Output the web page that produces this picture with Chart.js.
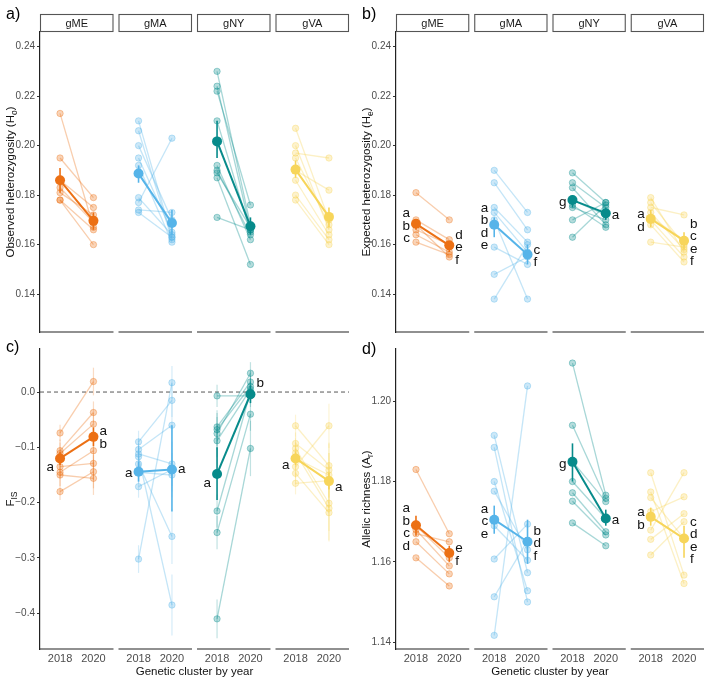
<!DOCTYPE html>
<html>
<head>
<meta charset="utf-8">
<script src="https://cdn.jsdelivr.net/npm/chart.js@4.4.1/dist/chart.umd.min.js"></script>
<style>
  body { margin: 0; background: #fff; }
  #wrap { position: relative; width: 709px; height: 680px; }
  canvas { position: absolute; }
</style>
</head>
<body>
<div id="wrap">
  <canvas id="pa" width="354" height="340" style="left:0;top:0"></canvas>
  <canvas id="pb" width="353" height="340" style="left:356px;top:0"></canvas>
  <canvas id="pc" width="354" height="340" style="left:0;top:340px"></canvas>
  <canvas id="pd" width="353" height="340" style="left:356px;top:340px"></canvas>
</div>
<script>
// categories
const clusters = ['gME', 'gMA', 'gNY', 'gVA'];
const years = ['2018', '2020'];

// a) observed heterozygosity, one row per cluster, sites paired by index
const hoSite2018 = [
  [0.213, 0.195, 0.186, 0.183, 0.181, 0.178, 0.178],
  [0.210, 0.206, 0.200, 0.195, 0.192, 0.179, 0.177, 0.174, 0.173],
  [0.230, 0.224, 0.222, 0.210, 0.192, 0.190, 0.189, 0.187, 0.171],
  [0.207, 0.200, 0.197, 0.195, 0.190, 0.186, 0.180, 0.178]
];
const hoSite2020 = [
  [0.167, 0.179, 0.175, 0.169, 0.172, 0.166, 0.160],
  [0.163, 0.162, 0.170, 0.165, 0.161, 0.164, 0.203, 0.173, 0.163],
  [0.168, 0.166, 0.176, 0.165, 0.162, 0.164, 0.167, 0.152, 0.166],
  [0.170, 0.166, 0.195, 0.168, 0.182, 0.164, 0.162, 0.160]
];
const hoMean = [[0.186, 0.1696], [0.1887, 0.1687], [0.2017, 0.1674], [0.1903, 0.1712]];
const hoMeanLo = [[0.181, 0.166], [0.185, 0.164], [0.195, 0.164], [0.187, 0.167]];
const hoMeanHi = [[0.191, 0.173], [0.192, 0.174], [0.210, 0.171], [0.194, 0.175]];

// b) expected heterozygosity
const heSite2018 = [
  [0.181, 0.170, 0.166, 0.164, 0.161, 0.168],
  [0.190, 0.185, 0.175, 0.173, 0.170, 0.159, 0.148, 0.138],
  [0.189, 0.185, 0.183, 0.178, 0.175, 0.170, 0.163, 0.176],
  [0.179, 0.177, 0.175, 0.173, 0.170, 0.168, 0.161, 0.171]
];
const heSite2020 = [
  [0.170, 0.162, 0.160, 0.157, 0.156, 0.155],
  [0.173, 0.166, 0.161, 0.157, 0.138, 0.152, 0.155, 0.160],
  [0.177, 0.175, 0.168, 0.172, 0.170, 0.177, 0.176, 0.167],
  [0.157, 0.160, 0.172, 0.158, 0.155, 0.153, 0.159, 0.162]
];
const heMean = [[0.1684, 0.1597], [0.168, 0.156], [0.178, 0.1727], [0.1704, 0.1616]];
const heMeanLo = [[0.166, 0.157], [0.163, 0.152], [0.175, 0.170], [0.167, 0.158]];
const heMeanHi = [[0.170, 0.161], [0.171, 0.160], [0.180, 0.175], [0.174, 0.165]];
const heLetters = [['abc', 'def'], ['abde', 'cf'], ['g', 'a'], ['ad', 'bcef']];

// c) F_IS
const fisSite2018 = [
  [-0.074, -0.106, -0.111, -0.135, -0.145, -0.150, -0.180],
  [-0.090, -0.104, -0.112, -0.117, -0.130, -0.171, -0.302, -0.145],
  [-0.007, -0.063, -0.068, -0.075, -0.088, -0.215, -0.254, -0.410],
  [-0.061, -0.093, -0.102, -0.110, -0.135, -0.147, -0.165, -0.120]
];
const fisSite2020 = [
  [0.019, -0.037, -0.058, -0.129, -0.106, -0.156, -0.144],
  [-0.015, -0.060, -0.130, -0.385, -0.261, -0.140, 0.017, -0.150],
  [-0.007, 0.018, 0.010, 0.034, 0.005, 0.000, -0.040, -0.102],
  [-0.133, -0.141, -0.201, -0.210, -0.061, -0.218, -0.160, -0.150]
];
const fisErr2018 = [
  [0.015, 0.02, 0.02, 0.02, 0.02, 0.02, 0.015],
  [0.02, 0.02, 0.02, 0.02, 0.03, 0.02, 0.025, 0.02],
  [0.02, 0.03, 0.03, 0.03, 0.03, 0.03, 0.03, 0.035],
  [0.02, 0.02, 0.02, 0.02, 0.02, 0.02, 0.02, 0.02]
];
const fisErr2020 = [
  [0.025, 0.02, 0.02, 0.03, 0.03, 0.03, 0.03],
  [0.03, 0.04, 0.04, 0.055, 0.05, 0.04, 0.03, 0.04],
  [0.02, 0.02, 0.02, 0.02, 0.02, 0.02, 0.03, 0.05],
  [0.04, 0.05, 0.05, 0.06, 0.04, 0.05, 0.05, 0.04]
];
const fisMean = [[-0.120, -0.081], [-0.144, -0.140], [-0.148, -0.004], [-0.120, -0.161]];
const fisMeanLo = [[-0.132, -0.098], [-0.162, -0.216], [-0.195, -0.020], [-0.132, -0.176]];
const fisMeanHi = [[-0.108, -0.064], [-0.126, -0.060], [-0.100, 0.012], [-0.108, -0.146]];
const fisLetters = [['a', 'ab'], ['a', 'a'], ['a', 'b'], ['a', 'a']];

// d) allelic richness
const arSite2018 = [
  [1.183, 1.169, 1.168, 1.167, 1.165, 1.161],
  [1.1915, 1.1885, 1.180, 1.1776, 1.169, 1.1607, 1.1513, 1.1417],
  [1.2095, 1.194, 1.185, 1.180, 1.1772, 1.1751, 1.1697],
  [1.1822, 1.1774, 1.176, 1.1725, 1.1679, 1.1656, 1.1617]
];
const arSite2020 = [
  [1.167, 1.161, 1.159, 1.165, 1.157, 1.154],
  [1.1573, 1.150, 1.1528, 1.163, 1.1604, 1.1694, 1.1653, 1.2038],
  [1.1766, 1.1758, 1.175, 1.1708, 1.1675, 1.1667, 1.164],
  [1.1567, 1.1546, 1.1658, 1.1762, 1.1822, 1.172, 1.170]
];
const arMean = [[1.1691, 1.1622], [1.1705, 1.165], [1.1849, 1.1708], [1.1712, 1.1658]];
const arMeanLo = [[1.1665, 1.160], [1.167, 1.1595], [1.180, 1.169], [1.169, 1.161]];
const arMeanHi = [[1.1715, 1.164], [1.174, 1.1705], [1.1895, 1.173], [1.1735, 1.169]];
const arLetters = [['abcd', 'ef'], ['ace', 'bdf'], ['g', 'a'], ['ab', 'cdef']];

// tick labels
const hoTicks = [0.14, 0.16, 0.18, 0.20, 0.22, 0.24];
const fisTicks = [-0.4, -0.3, -0.2, -0.1, 0.0];
const arTicks = [1.14, 1.16, 1.18, 1.20];

const clusterColors = ['236,112,20', '86,180,233', '7,139,139', '247,213,90'];
const FONT = "'Liberation Sans', Arial, Helvetica, sans-serif";

// facets side by side on one linear x axis
const facetW = 2.2, facetGap = 0.15;
const facetX = i => i * (facetW + facetGap);
const yearX = (i, y) => facetX(i) + 0.6 + y;
const xMax = 4 * facetW + 3 * facetGap;
const xTickPos = [];
clusters.forEach((c, i) => { xTickPos.push(yearX(i, 0), yearX(i, 1)); });

function fmt(v, digits) {
  return v.toFixed(digits).replace('-', '\u2212');
}

function buildDatasets(s18, s20, mean) {
  const ds = [];
  clusters.forEach((c, i) => {
    const col = clusterColors[i];
    ds.push({
      data: [{ x: yearX(i, 0), y: mean[i][0] }, { x: yearX(i, 1), y: mean[i][1] }],
      borderColor: `rgb(${col})`, backgroundColor: `rgb(${col})`,
      borderWidth: 2, pointRadius: 5, pointBorderWidth: 0, order: 0
    });
    s18[i].forEach((v, j) => {
      ds.push({
        data: [{ x: yearX(i, 0), y: v }, { x: yearX(i, 1), y: s20[i][j] }],
        borderColor: `rgba(${col},0.35)`, backgroundColor: `rgba(${col},0.3)`,
        pointBorderColor: `rgba(${col},0.35)`,
        borderWidth: 1.3, pointRadius: 3.2, pointBorderWidth: 1, order: 1
      });
    });
  });
  return ds;
}

function vline(ctx, x, y0, y1) {
  ctx.beginPath(); ctx.moveTo(x, y0); ctx.lineTo(x, y1); ctx.stroke();
}

// draws strips, broken x axis, titles, error bars and letters
function panelPlugin(cfg) {
  return {
    id: 'panel',
    beforeDatasetsDraw(chart) {
      const ctx = chart.ctx, xs = chart.scales.x, ys = chart.scales.y, a = chart.chartArea;
      ctx.save();
      if (cfg.zeroLine) {
        ctx.strokeStyle = '#444'; ctx.lineWidth = 0.9; ctx.setLineDash([4, 3]);
        const y0 = ys.getPixelForValue(0);
        ctx.beginPath(); ctx.moveTo(a.left, y0); ctx.lineTo(a.right, y0); ctx.stroke();
        ctx.setLineDash([]);
      }
      clusters.forEach((c, i) => {
        const col = clusterColors[i];
        if (cfg.err18) {
          ctx.strokeStyle = `rgba(${col},0.25)`; ctx.lineWidth = 1.2;
          cfg.s18[i].forEach((v, j) => {
            const e = cfg.err18[i][j];
            vline(ctx, xs.getPixelForValue(yearX(i, 0)), ys.getPixelForValue(v - e), ys.getPixelForValue(v + e));
          });
          cfg.s20[i].forEach((v, j) => {
            const e = cfg.err20[i][j];
            vline(ctx, xs.getPixelForValue(yearX(i, 1)), ys.getPixelForValue(v - e), ys.getPixelForValue(v + e));
          });
        }
        ctx.strokeStyle = `rgb(${col})`; ctx.lineWidth = 1.6;
        [0, 1].forEach(y => {
          vline(ctx, xs.getPixelForValue(yearX(i, y)), ys.getPixelForValue(cfg.lo[i][y]), ys.getPixelForValue(cfg.hi[i][y]));
        });
      });
      ctx.restore();
    },
    afterDraw(chart) {
      const ctx = chart.ctx, xs = chart.scales.x, ys = chart.scales.y, a = chart.chartArea;
      ctx.save();
      // facet strips and broken bottom axis
      clusters.forEach((c, i) => {
        const x0 = xs.getPixelForValue(facetX(i)), x1 = xs.getPixelForValue(facetX(i) + facetW);
        ctx.strokeStyle = '#222'; ctx.lineWidth = 1.2;
        ctx.beginPath(); ctx.moveTo(x0, a.bottom); ctx.lineTo(x1, a.bottom); ctx.stroke();
        if (cfg.strips) {
          ctx.strokeStyle = '#555'; ctx.lineWidth = 1.1;
          ctx.strokeRect(x0 + 0.5, 14.5, x1 - x0 - 1, 17);
          ctx.fillStyle = '#1a1a1a'; ctx.font = `11px ${FONT}`;
          ctx.textAlign = 'center'; ctx.textBaseline = 'middle';
          ctx.fillText(c, (x0 + x1) / 2, 23.5);
        }
      });
      // panel tag
      ctx.fillStyle = '#000'; ctx.font = `16px ${FONT}`;
      ctx.textAlign = 'left'; ctx.textBaseline = 'middle';
      ctx.fillText(cfg.tag, 6, cfg.tagY);
      // rotated y title with subscript
      ctx.save();
      ctx.translate(11, (a.top + a.bottom) / 2);
      ctx.rotate(-Math.PI / 2);
      const fMain = `11.5px ${FONT}`, fSub = `8.5px ${FONT}`;
      ctx.font = fMain;
      const w1 = ctx.measureText(cfg.title[0]).width, w3 = ctx.measureText(cfg.title[2]).width;
      ctx.font = fSub;
      const w2 = ctx.measureText(cfg.title[1]).width;
      let cx = -(w1 + w2 + w3) / 2;
      ctx.fillStyle = '#111';
      ctx.font = fMain; ctx.fillText(cfg.title[0], cx, 0); cx += w1;
      ctx.font = fSub; ctx.fillText(cfg.title[1], cx, 3.5); cx += w2;
      ctx.font = fMain; ctx.fillText(cfg.title[2], cx, 0);
      ctx.restore();
      // group letters next to the means
      if (cfg.letters) {
        ctx.fillStyle = '#111'; ctx.font = `13.5px ${FONT}`; ctx.textBaseline = 'middle';
        const lh = 12.5;
        cfg.letters.forEach((pair, i) => pair.forEach((txt, y) => {
          const px = xs.getPixelForValue(yearX(i, y));
          const py = ys.getPixelForValue(cfg.mean[i][y]);
          const nudge = cfg.nudge ? cfg.nudge[i][y] : 2;
          const lines = txt.split('');
          const top = py - (lines.length - 1) * lh / 2 + nudge;
          ctx.textAlign = y === 0 ? 'right' : 'left';
          lines.forEach((l, k) => ctx.fillText(l, y === 0 ? px - 6 : px + 6, top + k * lh));
        }));
      }
      ctx.restore();
    }
  };
}

function makePanel(id, o) {
  new Chart(document.getElementById(id), {
    type: 'line',
    data: { datasets: buildDatasets(o.s18, o.s20, o.mean) },
    options: {
      responsive: false,
      animation: false,
      devicePixelRatio: 1,
      layout: { padding: { top: o.padTop, right: 3, left: 0, bottom: 0 } },
      plugins: { legend: { display: false }, tooltip: { enabled: false } },
      scales: {
        x: {
          type: 'linear', min: 0, max: xMax,
          afterBuildTicks: s => { s.ticks = xTickPos.map(v => ({ value: v })); },
          afterFit: s => { s.height = o.years ? 31 : 7; },
          ticks: {
            display: o.years, autoSkip: false, maxRotation: 0, padding: 3,
            callback: (v, idx) => years[idx % 2],
            font: { family: FONT, size: 11 }, color: '#4d4d4d'
          },
          grid: { display: false, drawTicks: false },
          border: { display: false },
          title: {
            display: o.years, text: 'Genetic cluster by year',
            font: { family: FONT, size: 11.5 }, color: '#111',
            padding: { top: 0, bottom: 1 }
          }
        },
        y: {
          min: o.min, max: o.max,
          afterBuildTicks: s => { s.ticks = o.ticks.map(v => ({ value: v })); },
          afterFit: s => { s.width = 40; },
          ticks: {
            callback: v => fmt(v, o.digits), padding: 2,
            font: { family: FONT, size: 10 }, color: '#4d4d4d'
          },
          grid: { display: true, drawOnChartArea: false, drawTicks: true, tickLength: 3, color: '#333' },
          border: { display: true, color: '#222', width: 1.2 }
        }
      }
    },
    plugins: [panelPlugin(o)]
  });
}

makePanel('pa', {
  tag: 'a)', tagY: 15, strips: true, years: false, padTop: 32,
  title: ['Observed heterozygosity (H', 'o', ')'],
  s18: hoSite2018, s20: hoSite2020, mean: hoMean, lo: hoMeanLo, hi: hoMeanHi,
  min: 0.1247, max: 0.2459, ticks: hoTicks, digits: 2
});
makePanel('pb', {
  tag: 'b)', tagY: 15, strips: true, years: false, padTop: 32,
  title: ['Expected heterozygosity (H', 'e', ')'],
  s18: heSite2018, s20: heSite2020, mean: heMean, lo: heMeanLo, hi: heMeanHi,
  letters: heLetters,
  min: 0.1247, max: 0.2459, ticks: hoTicks, digits: 2
});
makePanel('pc', {
  tag: 'c)', tagY: 8, strips: false, years: true, padTop: 9, zeroLine: true,
  title: ['F', 'IS', ''],
  s18: fisSite2018, s20: fisSite2020, mean: fisMean, lo: fisMeanLo, hi: fisMeanHi,
  err18: fisErr2018, err20: fisErr2020,
  letters: fisLetters, nudge: [[9, 1], [2, 0], [9, -11], [7, 6]],
  min: -0.4645, max: 0.0778, ticks: fisTicks, digits: 1
});
makePanel('pd', {
  tag: 'd)', tagY: 10, strips: false, years: true, padTop: 9,
  title: ['Allelic richness (A', 'r', ')'],
  s18: arSite2018, s20: arSite2020, mean: arMean, lo: arMeanLo, hi: arMeanHi,
  letters: arLetters,
  min: 1.1383, max: 1.2130, ticks: arTicks, digits: 2
});
</script>
</body>
</html>
